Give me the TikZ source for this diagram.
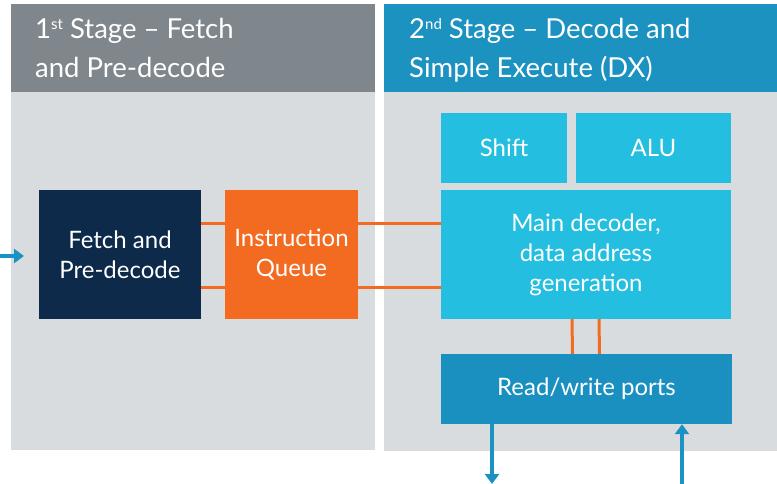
\documentclass[tikz,border=0pt]{standalone}
\usepackage{fontspec}
\setmainfont{Lato}
\usetikzlibrary{arrows.meta}
\definecolor{hdrgray}{HTML}{7F878C}
\definecolor{bodygray}{HTML}{D9DCDE}
\definecolor{hdrblue}{HTML}{1B92C0}
\definecolor{cyanbox}{HTML}{23BEE0}
\definecolor{rwblue}{HTML}{1A90C0}
\definecolor{navy}{HTML}{0D2A4A}
\definecolor{orangebox}{HTML}{F26B21}
\definecolor{arrowblue}{HTML}{1A92C4}
\newcommand{\supsm}[1]{\raisebox{0.33em}{\fontsize{15}{15}\selectfont #1}}
\begin{document}
\begin{tikzpicture}[x=1pt,y=-1pt,
  hdrtext/.style={anchor=base west, inner sep=0pt, text=white, font=\fontsize{27.5}{39}\selectfont},
  blockbox/.style={inner sep=0pt, text=white, align=center, font=\fontsize{24}{30}\selectfont},
  orangeline/.style={draw=orangebox, line width=3pt},
  bluearrow/.style={draw=arrowblue, line width=4pt, -{Triangle[length=10pt,width=14pt]}}]
\useasboundingbox (0,0) rectangle (777,484);
\fill[white] (0,0) rectangle (777,484);
% panels
\fill[bodygray] (11,4) rectangle (375,450);
\fill[hdrgray] (11,4) rectangle (375,92);
\fill[bodygray] (384,4) rectangle (777,451);
\fill[hdrblue] (384,4) rectangle (777,92);
% headers
\node[hdrtext] (h1a) at (35,39) {1\supsm{st} Stage – Fetch};
\node[hdrtext] (h1b) at (35,78) {and Pre-decode};
\node[hdrtext] (h2a) at (409,39) {2\supsm{nd} Stage – Decode and};
\node[hdrtext] (h2b) at (409,78) {Simple Execute (DX)};
% blocks
\node[blockbox, fill=navy, minimum width=162pt, minimum height=129pt] (fetch) at (120,254.5) {Fetch and\\Pre-decode};
\node[blockbox, fill=orangebox, minimum width=133pt, minimum height=129pt] (iq) at (291.5,254.5) {Instruction\\Queue};
\node[blockbox, fill=cyanbox, minimum width=126pt, minimum height=70pt] (shift) at (504,148) {Shift};
\node[blockbox, fill=cyanbox, minimum width=155pt, minimum height=70pt] (alu) at (653.5,148) {ALU};
\node[blockbox, fill=cyanbox, minimum width=290pt, minimum height=129pt] (main) at (586,254.5) {Main decoder,\\data address\\generation};
\node[blockbox, fill=rwblue, minimum width=291pt, minimum height=70pt] (rw) at (586.5,389) {Read/write ports};
% orange connectors
\draw[orangeline] ([yshift=31.5pt]fetch.east) -- ([yshift=31.5pt]iq.west);
\draw[orangeline] ([yshift=-32.5pt]fetch.east) -- ([yshift=-32.5pt]iq.west);
\draw[orangeline] ([yshift=31.5pt]iq.east) -- ([yshift=31.5pt]main.west);
\draw[orangeline] ([yshift=-32.5pt]iq.east) -- ([yshift=-32.5pt]main.west);
\draw[orangeline] ([xshift=-14pt]main.south) -- ([xshift=-14pt]rw.north);
\draw[orangeline] ([xshift=13pt]main.south) -- ([xshift=13pt]rw.north);
% blue arrows
\coordinate (inA) at (0,256);
\coordinate (inB) at (24,256);
\draw[bluearrow] (inA) -- (inB);
\coordinate (outB) at (492,484);
\draw[bluearrow] ([xshift=-94.5pt]rw.south) -- (outB);
\coordinate (upA) at (682,484);
\draw[bluearrow] (upA) -- ([xshift=95.5pt]rw.south);
\end{tikzpicture}
\end{document}
